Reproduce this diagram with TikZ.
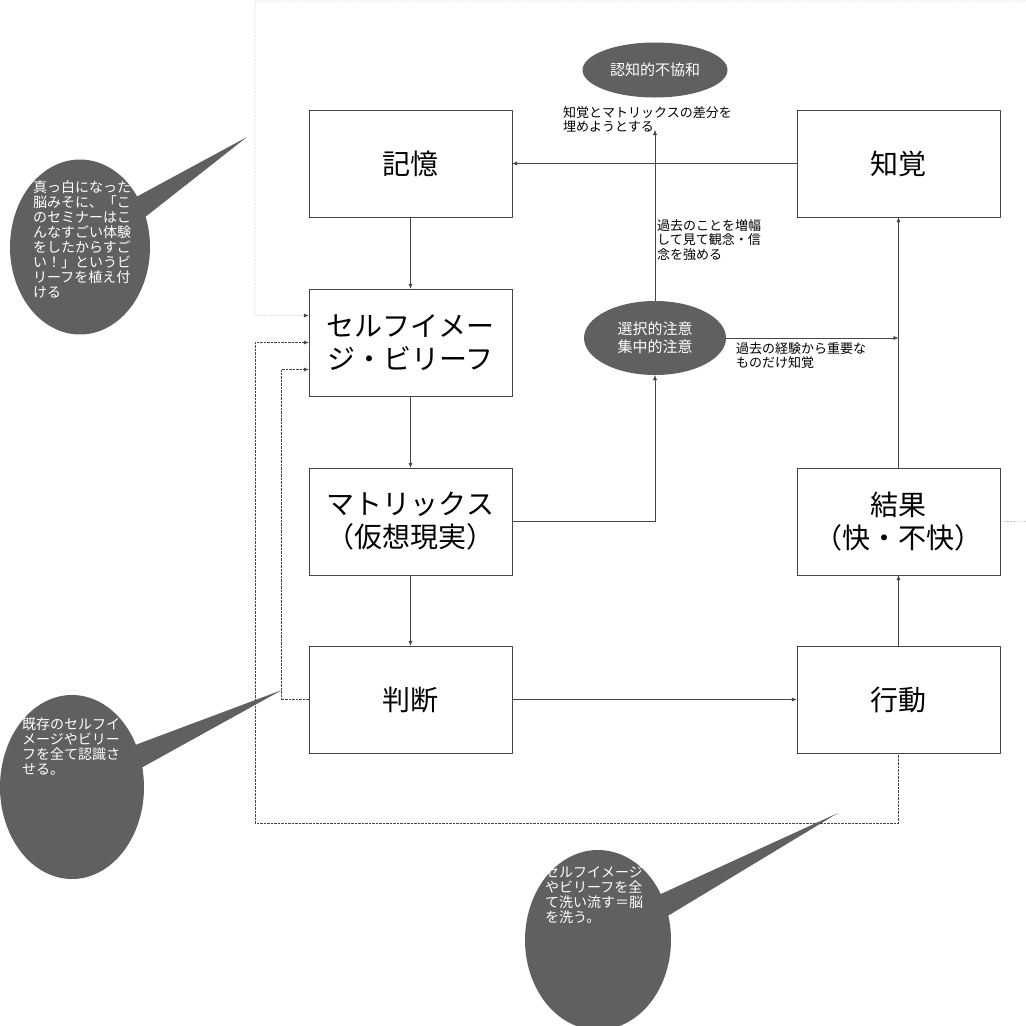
\documentclass[tikz,border=0pt]{standalone}
\usepackage{fontspec}
\setmainfont{Noto Sans CJK JP}
\usetikzlibrary{shapes,shapes.callouts,arrows.meta,positioning,calc}
\definecolor{bubblegray}{RGB}{96,96,96}
\definecolor{linegray}{RGB}{70,70,70}

\begin{document}
\begin{tikzpicture}[
    x=1pt, y=-1pt,
    every node/.style={font=\fontsize{13}{14}\selectfont},
    block/.style={rectangle, draw=linegray, fill=white, minimum width=203pt, minimum height=107pt, align=center, font=\fontsize{28}{33}\selectfont, inner sep=0pt},
    blob/.style={ellipse, fill=bubblegray, text=white, minimum width=145pt, minimum height=55pt, align=center, font=\fontsize{15}{18}\selectfont, inner sep=0pt},
    bubble/.style={ellipse callout, fill=bubblegray, inner sep=0pt},
    note/.style={align=left, inner sep=0pt, anchor=north west, font=\fontsize{13}{14.5}\selectfont},
    bnote/.style={note, text=white, font=\fontsize{14}{15}\selectfont},
    arrow/.style={-{Latex[length=5pt,width=4pt]}, draw=linegray, thin},
    fb/.style={arrow, densely dotted}
]
\useasboundingbox (0,0) rectangle (1026,1026);

% Main boxes
\node[block] (memory) at (410.5,163.5) {記憶};
\node[block] (percept) at (898.5,163.5) {知覚};
\node[block] (self) at (410.5,342.5) {セルフイメー\\ジ・ビリーフ};
\node[block] (matrix) at (410.5,521.5) {マトリックス\\（仮想現実）};
\node[block] (judge) at (410.5,699.5) {判断};
\node[block] (result) at (898.5,521.5) {結果\\（快・不快）};
\node[block] (action) at (898.5,699.5) {行動};

% Ellipses
\node[blob] (dissonance) at (655,70) {認知的不協和};
\node[blob, minimum width=142pt, minimum height=74pt] (attention) at (655,338) {選択的注意\\集中的注意};

% Main flow
\draw[arrow] (percept) -- (memory);
\draw[arrow] (memory) -- (self);
\draw[arrow] (self) -- (matrix);
\draw[arrow] (matrix) -- (judge);
\draw[arrow] (judge) -- (action);
\draw[arrow] (action) -- (result);
\draw[arrow] (result) -- (percept);
\draw[arrow] (matrix.east) -| (attention.south);
\coordinate (gapTop) at (655,130);
\draw[arrow] (attention.north) -- (gapTop);
\coordinate (flowHit) at (898.5,338);
\draw[arrow] (attention.east) -- (flowHit);

% Labels
\node[note] at (563,106) {知覚とマトリックスの差分を\\埋めようとする};
\node[note] at (657,219) {過去のことを増幅\\して見て観念・信\\念を強める};
\node[note] at (736,342) {過去の経験から重要な\\ものだけ知覚};

% Feedback loops
\coordinate (outR) at (1040,521);
\coordinate (topL) at (255,1);
\draw[fb] (result.east) -- (outR) |- (topL) |- ([yshift=27pt]self.west);
\coordinate (botL) at (255,823);
\draw[fb] (action.south) |- (botL) |- (self.west);
\coordinate (midL) at (281,699.5);
\draw[fb] (judge.west) -- (midL) |- ([yshift=-27pt]self.west);

% Callouts
\node[bubble, minimum width=140pt, minimum height=175pt, callout absolute pointer={(247,137)}] (bubbleA) at (80,247) {};
\node[bnote] at (33,180) {真っ白になった\\脳みそに、「こ\\のセミナーはこ\\んなすごい体験\\をしたからすご\\い！」というビ\\リーフを植え付\\ける};
\node[bubble, minimum width=144pt, minimum height=184pt, callout absolute pointer={(282,690)}] (bubbleB) at (72,787) {};
\node[bnote] at (22,718) {既存のセルフイ\\メージやビリー\\フを全て認識さ\\せる。};
\node[bubble, minimum width=146pt, minimum height=180pt, callout absolute pointer={(838,813)}] (bubbleC) at (598,940) {};
\node[bnote] at (545,866) {セルフイメージ\\やビリーフを全\\て洗い流す＝脳\\を洗う。};

\end{tikzpicture}
\end{document}
